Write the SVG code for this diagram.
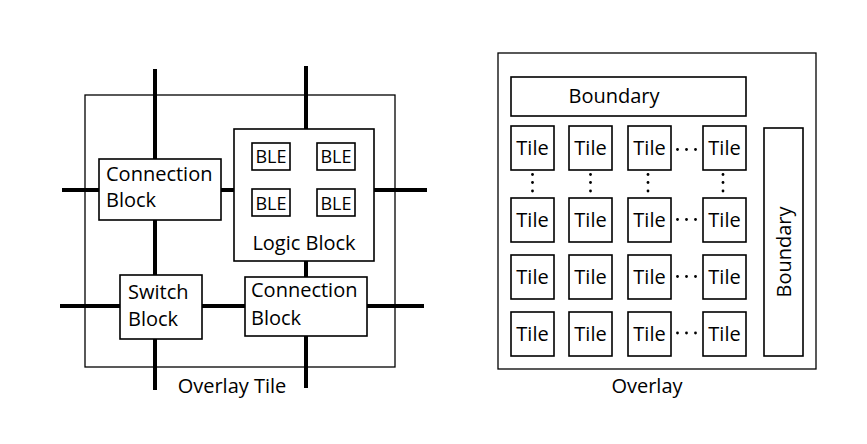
<svg xmlns="http://www.w3.org/2000/svg" width="867" height="444" viewBox="0 0 867 444">
<style>
.box{fill:#fff;stroke:#000;stroke-width:1.6}
.frame{fill:#fff;stroke:#000;stroke-width:1.3}
.wire{stroke:#000;stroke-width:4;fill:none}
text{font-family:"Open Sans","Noto Sans",sans-serif;font-size:20px;fill:#000}
.c{text-anchor:middle}
.tile{font-size:20px;text-anchor:middle}
.ble{font-size:18px;text-anchor:middle}
.dot{fill:#000}
</style>
<rect width="867" height="444" fill="#fff"/>
<g id="overlay-tile">
<rect class="frame" x="85" y="95" width="310" height="272"/>
<text class="c" x="232" y="393">Overlay Tile</text>
</g>
<g id="connectors">
<line class="wire" x1="155" y1="69" x2="155" y2="390"/>
<line class="wire" x1="306" y1="66" x2="306" y2="388"/>
<line class="wire" x1="62" y1="190" x2="427" y2="190"/>
<line class="wire" x1="60" y1="306" x2="424" y2="306"/>
</g>
<g id="connection-block-1">
<rect class="box" x="99" y="159" width="122" height="61"/>
<text x="106" y="181">Connection</text>
<text x="106" y="207">Block</text>
</g>
<g id="logic-block">
<rect class="box" x="234" y="129" width="140" height="132"/>
<text class="c" x="304" y="250">Logic Block</text>
</g>
<g id="ble-1"><rect class="box" x="252" y="143" width="38" height="27"/><text class="ble" x="271" y="163">BLE</text></g>
<g id="ble-2"><rect class="box" x="317" y="143" width="38" height="27"/><text class="ble" x="336" y="163">BLE</text></g>
<g id="ble-3"><rect class="box" x="252" y="189" width="38" height="27"/><text class="ble" x="271" y="210">BLE</text></g>
<g id="ble-4"><rect class="box" x="317" y="189" width="38" height="27"/><text class="ble" x="336" y="210">BLE</text></g>
<g id="switch-block">
<rect class="box" x="120" y="275" width="82" height="64"/>
<text x="128" y="299">Switch</text>
<text x="128" y="326">Block</text>
</g>
<g id="connection-block-2">
<rect class="box" x="245" y="277" width="122" height="59"/>
<text x="251" y="297">Connection</text>
<text x="251" y="325">Block</text>
</g>

<g id="overlay">
<rect class="frame" x="498" y="53" width="318" height="316"/>
<text class="c" x="647" y="393">Overlay</text>
</g>
<g id="boundary-top">
<rect class="box" x="511" y="77" width="235" height="39"/>
<text class="c" x="614" y="103">Boundary</text>
</g>
<g id="boundary-right">
<rect class="box" x="764" y="128" width="39" height="228"/>
<text class="c" transform="translate(791 252) rotate(-90)" x="0" y="0">Boundary</text>
</g>
<g id="tiles">
<g id="tile-r1c1"><rect class="box" x="511" y="126" width="43" height="44"/><text class="tile" x="532.5" y="155">Tile</text></g>
<g id="tile-r1c2"><rect class="box" x="569" y="126" width="43" height="44"/><text class="tile" x="590.5" y="155">Tile</text></g>
<g id="tile-r1c3"><rect class="box" x="628" y="126" width="43" height="44"/><text class="tile" x="649.5" y="155">Tile</text></g>
<g id="tile-r1c4"><rect class="box" x="703" y="126" width="43" height="44"/><text class="tile" x="724.5" y="155">Tile</text></g>
<g id="tile-r2c1"><rect class="box" x="511" y="198" width="43" height="44"/><text class="tile" x="532.5" y="227">Tile</text></g>
<g id="tile-r2c2"><rect class="box" x="569" y="198" width="43" height="44"/><text class="tile" x="590.5" y="227">Tile</text></g>
<g id="tile-r2c3"><rect class="box" x="628" y="198" width="43" height="44"/><text class="tile" x="649.5" y="227">Tile</text></g>
<g id="tile-r2c4"><rect class="box" x="703" y="198" width="43" height="44"/><text class="tile" x="724.5" y="227">Tile</text></g>
<g id="tile-r3c1"><rect class="box" x="511" y="255" width="43" height="44"/><text class="tile" x="532.5" y="284">Tile</text></g>
<g id="tile-r3c2"><rect class="box" x="569" y="255" width="43" height="44"/><text class="tile" x="590.5" y="284">Tile</text></g>
<g id="tile-r3c3"><rect class="box" x="628" y="255" width="43" height="44"/><text class="tile" x="649.5" y="284">Tile</text></g>
<g id="tile-r3c4"><rect class="box" x="703" y="255" width="43" height="44"/><text class="tile" x="724.5" y="284">Tile</text></g>
<g id="tile-r4c1"><rect class="box" x="511" y="312" width="43" height="44"/><text class="tile" x="532.5" y="341">Tile</text></g>
<g id="tile-r4c2"><rect class="box" x="569" y="312" width="43" height="44"/><text class="tile" x="590.5" y="341">Tile</text></g>
<g id="tile-r4c3"><rect class="box" x="628" y="312" width="43" height="44"/><text class="tile" x="649.5" y="341">Tile</text></g>
<g id="tile-r4c4"><rect class="box" x="703" y="312" width="43" height="44"/><text class="tile" x="724.5" y="341">Tile</text></g>
</g>
<g id="ellipses">
<circle class="dot" cx="677.5" cy="149.5" r="1.4"/><circle class="dot" cx="686.5" cy="149.5" r="1.4"/><circle class="dot" cx="695.5" cy="149.5" r="1.4"/>
<circle class="dot" cx="677.5" cy="219.5" r="1.4"/><circle class="dot" cx="686.5" cy="219.5" r="1.4"/><circle class="dot" cx="695.5" cy="219.5" r="1.4"/>
<circle class="dot" cx="677.5" cy="276.5" r="1.4"/><circle class="dot" cx="686.5" cy="276.5" r="1.4"/><circle class="dot" cx="695.5" cy="276.5" r="1.4"/>
<circle class="dot" cx="677.5" cy="333" r="1.4"/><circle class="dot" cx="686.5" cy="333" r="1.4"/><circle class="dot" cx="695.5" cy="333" r="1.4"/>
<circle class="dot" cx="532.5" cy="174.5" r="1.4"/><circle class="dot" cx="532.5" cy="182.5" r="1.4"/><circle class="dot" cx="532.5" cy="191" r="1.4"/>
<circle class="dot" cx="590.5" cy="174.5" r="1.4"/><circle class="dot" cx="590.5" cy="182.5" r="1.4"/><circle class="dot" cx="590.5" cy="191" r="1.4"/>
<circle class="dot" cx="648" cy="174.5" r="1.4"/><circle class="dot" cx="648" cy="182.5" r="1.4"/><circle class="dot" cx="648" cy="191" r="1.4"/>
<circle class="dot" cx="723" cy="174.5" r="1.4"/><circle class="dot" cx="723" cy="182.5" r="1.4"/><circle class="dot" cx="723" cy="191" r="1.4"/>
</g>
</svg>
